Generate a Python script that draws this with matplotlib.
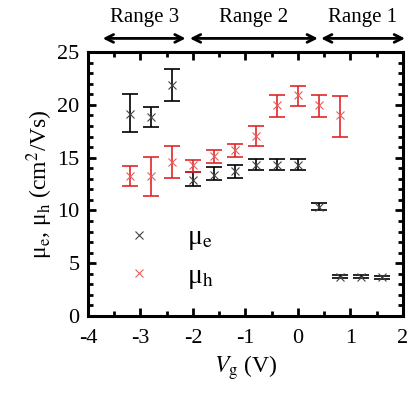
import matplotlib
matplotlib.use("Agg")
import matplotlib.pyplot as plt
from matplotlib.ticker import MultipleLocator
from matplotlib.lines import Line2D

plt.rcParams['font.family'] = ['Liberation Serif', 'DejaVu Serif']
plt.rcParams['mathtext.fontset'] = 'stix'
plt.rcParams['axes.unicode_minus'] = False

# Electron mobility
vg_e = [-3.2, -2.8, -2.4, -2.0, -1.6, -1.2, -0.8, -0.4, 0.0, 0.4, 0.8, 1.2, 1.6]
mu_e = [19.1, 18.9, 21.9, 12.9, 13.4, 13.7, 14.3, 14.3, 14.3, 10.35, 3.72, 3.72, 3.65]
mu_e_hi = [21.0, 19.8, 23.4, 13.6, 14.1, 14.3, 14.9, 14.9, 14.9, 10.7, 3.85, 3.85, 3.8]
mu_e_lo = [17.4, 17.9, 20.4, 12.3, 12.9, 13.1, 13.8, 13.8, 13.8, 10.0, 3.6, 3.6, 3.5]

# Hole mobility
vg_h = [-3.2, -2.8, -2.4, -2.0, -1.6, -1.2, -0.8, -0.4, 0.0, 0.4, 0.8]
mu_h = [13.3, 13.3, 14.6, 14.3, 15.2, 15.7, 17.1, 20.0, 20.9, 20.0, 19.0]
mu_h_hi = [14.2, 15.1, 16.1, 14.8, 15.7, 16.3, 18.0, 20.9, 21.8, 20.9, 20.8]
mu_h_lo = [12.3, 11.4, 13.1, 13.6, 14.5, 15.1, 16.1, 18.9, 19.9, 18.9, 17.0]

ranges = ["Range 3", "Range 2", "Range 1"]
range_bounds = [(-3.72, -2.14), (-2.06, 0.38), (0.44, 2.04)]

fig = plt.figure(figsize=(4.18, 3.98), dpi=100)
ax = fig.add_axes([0.2105, 0.206, 0.7535, 0.663])

def err(v, hi, lo):
    return [[a - b for a, b in zip(v, lo)], [b - a for a, b in zip(v, hi)]]

ax.errorbar(vg_e, mu_e, yerr=err(mu_e, mu_e_hi, mu_e_lo), fmt='none',
            ecolor='black', elinewidth=1.2, capsize=6, capthick=1.2)
ax.plot(vg_e, mu_e, 'x', color='#444444', ms=5.5, mew=0.8)
ax.errorbar(vg_h, mu_h, yerr=err(mu_h, mu_h_hi, mu_h_lo), fmt='none',
            ecolor='#e0262a', elinewidth=1.2, capsize=6, capthick=1.2)
ax.plot(vg_h, mu_h, 'x', color='#e06060', ms=5.5, mew=0.8)

ax.set_xlim(-4, 2)
ax.set_ylim(0, 25)
ax.xaxis.set_major_locator(MultipleLocator(1))
ax.xaxis.set_minor_locator(MultipleLocator(0.5))
ax.yaxis.set_major_locator(MultipleLocator(5))
ax.yaxis.set_minor_locator(MultipleLocator(1))
ax.tick_params(which='both', direction='in', top=True, right=True, labelsize=16)
ax.tick_params(which='major', length=6, width=2)
ax.tick_params(which='minor', length=3.5, width=2)
ax.tick_params(axis='x', pad=9)
ax.tick_params(axis='y', pad=6)
for s in ax.spines.values():
    s.set_linewidth(2.2)

ax.set_xlabel(r'$V_{\rm g}$ (V)', fontsize=17, labelpad=4)
ax.set_ylabel('μ$_{\\rm e}$, μ$_{\\rm h}$ (cm$^2$/Vs)', fontsize=17, labelpad=2)

handles = [Line2D([], [], ls='none', marker='x', color='#444444', ms=5.5, mew=0.8),
           Line2D([], [], ls='none', marker='x', color='#e06060', ms=5.5, mew=0.8)]
ax.legend(handles, ['μ$_{\\rm e}$', 'μ$_{\\rm h}$'], loc='lower left',
          bbox_to_anchor=(0.04, 0.0), frameon=False, fontsize=20,
          handletextpad=1.2, labelspacing=0.4, handlelength=1.0)

for name, (a, b) in zip(ranges, range_bounds):
    ax.annotate('', xy=(a, 26.3), xytext=(b, 26.3), xycoords='data',
                arrowprops=dict(arrowstyle='<->', lw=2, color='black',
                                mutation_scale=14, shrinkA=0, shrinkB=0),
                annotation_clip=False)
    ax.text((a + b) / 2, 27.4, name, ha='center', va='bottom', fontsize=15)

fig.savefig('out.png', dpi=100)
